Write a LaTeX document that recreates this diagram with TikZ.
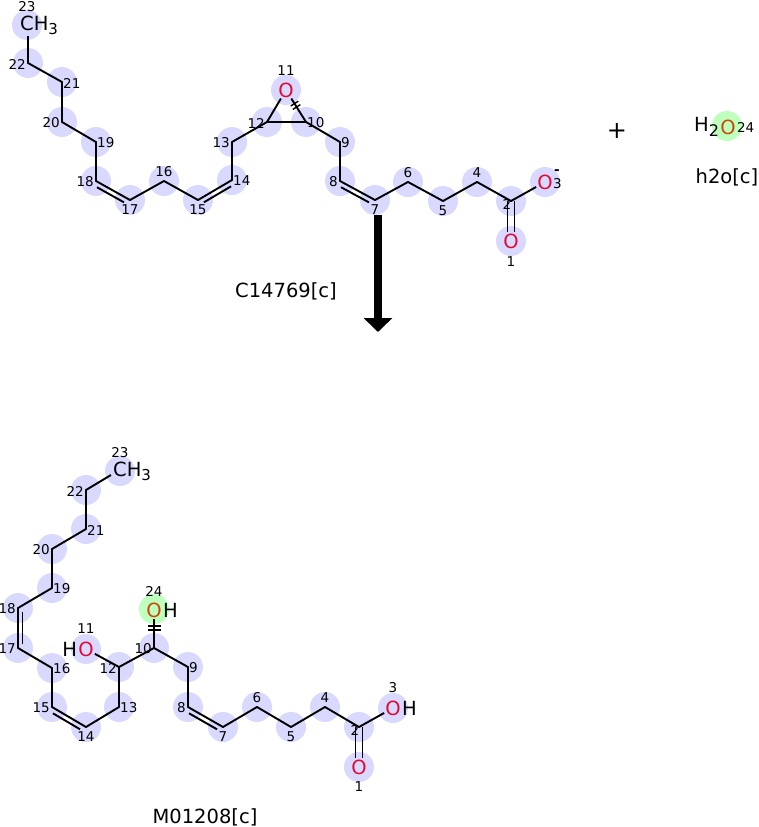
\documentclass[tikz,border=0pt]{standalone}
\usepackage{fontspec}
\setmainfont{DejaVu Sans}
\usetikzlibrary{arrows.meta}
\definecolor{lav}{RGB}{217,217,255}
\definecolor{grn}{RGB}{190,255,190}
\definecolor{ored}{RGB}{228,10,50}
\definecolor{oorg}{RGB}{205,70,10}

\begin{document}
\begin{tikzpicture}[x=1pt, y=-1pt,
	atom/.style={circle, fill=lav, minimum size=30pt, inner sep=0pt},
	water/.style={circle, fill=grn, minimum size=30pt, inner sep=0pt},
	num/.style={inner sep=0pt, font=\fontsize{13.5}{13.5}\selectfont},
	numL/.style={num, anchor=east, shift={(-2,1)}},
	numR/.style={num, anchor=west, shift={(1,1)}},
	numA/.style={num, shift={(0,-9)}},
	numB/.style={num, shift={(0,10)}},
	numX/.style={num, shift={(-4,3)}},
	elem/.style={inner sep=1pt, font=\fontsize{19.5}{19.5}\selectfont},
	oxy/.style={elem, text=ored},
	bond/.style={line width=1.9pt, line join=round},
	dbl/.style={bond, shorten <=4pt, shorten >=4pt},
	hash/.style={line width=1.4pt},
	molname/.style={font=\fontsize{19.5}{19.5}\selectfont}]
	\fill[white] (0,0) rectangle (758,827);
	\useasboundingbox (0,0) rectangle (758,827);

	% substrate C14769
	\foreach \n/\x/\y/\p in {22/28/63/L, 21/62/82/R, 20/62/122/L, 19/96/142/R, 18/96/181/L, 17/130/200/B, 16/164/181/A, 15/198/200/B, 14/232/180/R, 13/232/142/L, 12/267/122/L, 10/306/122/R, 9/340/142/R, 8/340/181/L, 7/375/200/B, 6/408/182/A, 5/443/201/B, 4/477/182/A, 2/511/201/X}
	{
		\node[atom] (t\n) at (\x,\y) {};
		\node[num\p] (tl\n) at (t\n) {\n};
	}
	\node[atom] (c23) at (27,25) {};
	\node[num] (tl23) at (27,7) {23};
	\node[atom] (c11) at (286,90) {};
	\node[num] (tl11) at (286,71) {11};
	\node[atom] (c3) at (545,182) {};
	\node[num, anchor=west] (tl3) at (553,184) {3};
	\node[num] (chg) at (557,172) {\textbf{-}};
	\node[atom] (c1) at (511,241) {};
	\node[num] (tl1) at (511,262) {1};

	\node[elem, anchor=west] (t23) at (19,25) {CH\raisebox{-4pt}{\fontsize{15}{15}\selectfont 3}};
	\node[oxy] (t11) at (286,90) {O};
	\node[oxy] (t3) at (545,182) {O};
	\node[oxy] (t1) at (511,241) {O};
	\coordinate (t23b) at (28,36);

	\draw[bond] (t23b) -- (t22.center) -- (t21.center) -- (t20.center) -- (t19.center) -- (t18.center) -- (t17.center) -- (t16.center) -- (t15.center) -- (t14.center) -- (t13.center) -- (t12.center) -- (t10.center) -- (t9.center) -- (t8.center) -- (t7.center) -- (t6.center) -- (t5.center) -- (t4.center) -- (t2.center) -- (t3);
	\draw[bond] (t12.center) -- (t11);
	\draw[bond] (t10.center) -- (t11);
	\draw[hash] (290.7,106) -- (298.3,101.2);
	\draw[hash] (292.8,109.4) -- (300.4,104.6);
	\draw[dbl] ([shift={(-2.5,4.3)}]t18.center) -- ([shift={(-2.5,4.3)}]t17.center);
	\draw[dbl] ([shift={(2.5,4.3)}]t15.center) -- ([shift={(2.5,4.3)}]t14.center);
	\draw[dbl] ([shift={(-2.5,4.3)}]t8.center) -- ([shift={(-2.5,4.3)}]t7.center);
	\draw[bond] ([xshift=-3.5pt]t2.center) -- ([xshift=-3.5pt]t1.north);
	\draw[bond] ([xshift=3.5pt]t2.center) -- ([xshift=3.5pt]t1.north);

	\node[molname] (subn) at (286,291) {C14769[c]};

	% water
	\node[font=\fontsize{24}{24}\selectfont] (plus) at (617,131) {+};
	\node[water] (cw) at (727,126) {};
	\node[elem, text=oorg] (w) at (728,127) {O};
	\node[elem, anchor=east, inner sep=0pt] (wh) at (w.west) {H\raisebox{-5pt}{\fontsize{16}{16}\selectfont 2}};
	\node[num, anchor=west] (wl) at (w.east) {24};
	\node[molname] (wn) at (727,177) {h2o[c]};

	% reaction arrow
	\coordinate (arrS) at (378,215);
	\coordinate (arrE) at (378,332);
	\draw[line width=7.5pt, -{Triangle[width=28pt, length=14pt]}] (arrS) -- (arrE);

	% product M01208
	\foreach \n/\x/\y/\p in {22/86/490/L, 21/86/529/R, 20/52/549/L, 19/52/588/R, 18/18/608/L, 17/18/648/L, 16/52/668/R, 15/52/707/L, 14/86/727/B, 13/119/707/R, 12/119/667/L, 10/154/648/L, 9/188/667/R, 8/188/707/L, 7/223/727/B, 6/257/707/A, 5/291/727/B, 4/325/707/A, 2/359/727/X}
	{
		\node[atom] (p\n) at (\x,\y) {};
		\node[num\p] (pl\n) at (p\n) {\n};
	}
	\node[atom] (pc23) at (120,471) {};
	\node[num] (pl23) at (120,453) {23};
	\node[water] (pc24) at (154,609) {};
	\node[num] (pl24) at (154,591) {24};
	\node[atom] (pc11) at (86,649) {};
	\node[num] (pl11) at (86,629) {11};
	\node[atom] (pc3) at (393,708) {};
	\node[num] (pl3) at (393,688) {3};
	\node[atom] (pc1) at (359,767) {};
	\node[num] (pl1) at (359,787) {1};

	\node[elem, anchor=west] (p23) at (112,471) {CH\raisebox{-4pt}{\fontsize{15}{15}\selectfont 3}};
	\node[elem, text=oorg] (p24) at (154,610) {O};
	\node[elem, anchor=west, inner sep=0pt] (p24h) at (p24.east) {H};
	\node[oxy] (p11) at (86,649) {O};
	\node[elem, anchor=east, inner sep=0pt] (p11h) at (p11.west) {H};
	\node[oxy] (p3) at (393,708) {O};
	\node[elem, anchor=west, inner sep=0pt] (p3h) at (p3.east) {H};
	\node[oxy] (p1) at (359,767) {O};
	\coordinate (p23b) at (111,475);

	\draw[bond] (p23b) -- (p22.center) -- (p21.center) -- (p20.center) -- (p19.center) -- (p18.center) -- (p17.center) -- (p16.center) -- (p15.center) -- (p14.center) -- (p13.center) -- (p12.center) -- (p10.center) -- (p9.center) -- (p8.center) -- (p7.center) -- (p6.center) -- (p5.center) -- (p4.center) -- (p2.center) -- (p3);
	\draw[bond] (p12.center) -- (p11);
	\draw[bond] (p10.center) -- (p24);
	\draw[hash] (148,626) -- (161,626);
	\draw[hash] (148,630) -- (161,630);
	\draw[dbl] ([xshift=4.5pt]p18.center) -- ([xshift=4.5pt]p17.center);
	\draw[dbl] ([shift={(-2.5,4.3)}]p15.center) -- ([shift={(-2.5,4.3)}]p14.center);
	\draw[dbl] ([shift={(-2.5,4.3)}]p8.center) -- ([shift={(-2.5,4.3)}]p7.center);
	\draw[bond] ([xshift=-3.5pt]p2.center) -- ([xshift=-3.5pt]p1.north);
	\draw[bond] ([xshift=3.5pt]p2.center) -- ([xshift=3.5pt]p1.north);

	\node[molname] (prodn) at (205,817) {M01208[c]};
\end{tikzpicture}
\end{document}
